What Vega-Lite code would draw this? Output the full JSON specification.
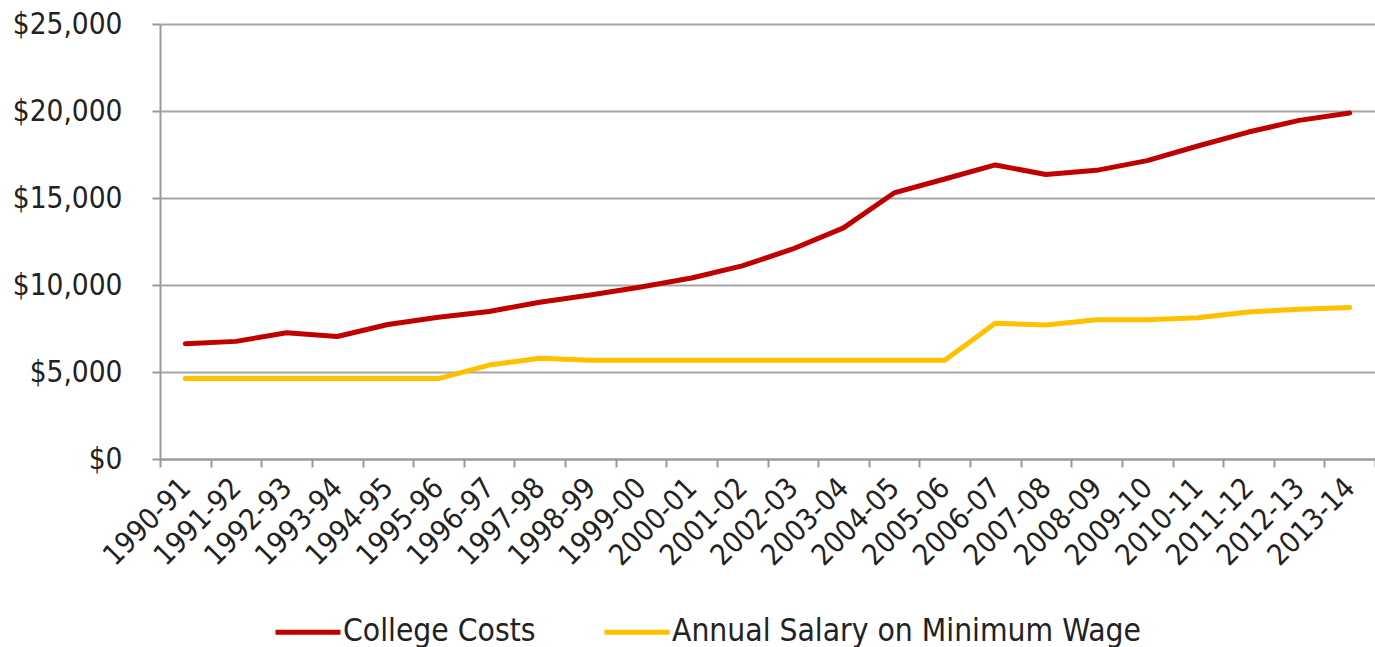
{
  "$schema": "https://vega.github.io/schema/vega-lite/v6.json",
  "width": 1215,
  "height": 435,
  "autosize": {"type": "none"},
  "padding": {"left": 160, "top": 24, "right": 0, "bottom": 188},
  "background": "white",
  "config": {
    "view": {"stroke": null},
    "font": "DejaVu Sans Condensed, Liberation Sans",
    "axis": {"labelFont": "DejaVu Sans Condensed, Liberation Sans", "labelColor": "#222222"},
    "legend": {"labelFont": "DejaVu Sans Condensed, Liberation Sans"}
  },
  "data": {
    "values": [
      {"year": "1990-91", "series": "College Costs", "value": 6630},
      {"year": "1991-92", "series": "College Costs", "value": 6760},
      {"year": "1992-93", "series": "College Costs", "value": 7260},
      {"year": "1993-94", "series": "College Costs", "value": 7040},
      {"year": "1994-95", "series": "College Costs", "value": 7730},
      {"year": "1995-96", "series": "College Costs", "value": 8150},
      {"year": "1996-97", "series": "College Costs", "value": 8480},
      {"year": "1997-98", "series": "College Costs", "value": 9010},
      {"year": "1998-99", "series": "College Costs", "value": 9430},
      {"year": "1999-00", "series": "College Costs", "value": 9890},
      {"year": "2000-01", "series": "College Costs", "value": 10400},
      {"year": "2001-02", "series": "College Costs", "value": 11100},
      {"year": "2002-03", "series": "College Costs", "value": 12070},
      {"year": "2003-04", "series": "College Costs", "value": 13280},
      {"year": "2004-05", "series": "College Costs", "value": 15290},
      {"year": "2005-06", "series": "College Costs", "value": 16090},
      {"year": "2006-07", "series": "College Costs", "value": 16900},
      {"year": "2007-08", "series": "College Costs", "value": 16350},
      {"year": "2008-09", "series": "College Costs", "value": 16590},
      {"year": "2009-10", "series": "College Costs", "value": 17150},
      {"year": "2010-11", "series": "College Costs", "value": 17990},
      {"year": "2011-12", "series": "College Costs", "value": 18790},
      {"year": "2012-13", "series": "College Costs", "value": 19460},
      {"year": "2013-14", "series": "College Costs", "value": 19880},
      {"year": "1990-91", "series": "Annual Salary on Minimum Wage", "value": 4620},
      {"year": "1991-92", "series": "Annual Salary on Minimum Wage", "value": 4620},
      {"year": "1992-93", "series": "Annual Salary on Minimum Wage", "value": 4620},
      {"year": "1993-94", "series": "Annual Salary on Minimum Wage", "value": 4620},
      {"year": "1994-95", "series": "Annual Salary on Minimum Wage", "value": 4620},
      {"year": "1995-96", "series": "Annual Salary on Minimum Wage", "value": 4620},
      {"year": "1996-97", "series": "Annual Salary on Minimum Wage", "value": 5400},
      {"year": "1997-98", "series": "Annual Salary on Minimum Wage", "value": 5790},
      {"year": "1998-99", "series": "Annual Salary on Minimum Wage", "value": 5670},
      {"year": "1999-00", "series": "Annual Salary on Minimum Wage", "value": 5670},
      {"year": "2000-01", "series": "Annual Salary on Minimum Wage", "value": 5670},
      {"year": "2001-02", "series": "Annual Salary on Minimum Wage", "value": 5670},
      {"year": "2002-03", "series": "Annual Salary on Minimum Wage", "value": 5670},
      {"year": "2003-04", "series": "Annual Salary on Minimum Wage", "value": 5670},
      {"year": "2004-05", "series": "Annual Salary on Minimum Wage", "value": 5670},
      {"year": "2005-06", "series": "Annual Salary on Minimum Wage", "value": 5670},
      {"year": "2006-07", "series": "Annual Salary on Minimum Wage", "value": 7800},
      {"year": "2007-08", "series": "Annual Salary on Minimum Wage", "value": 7700},
      {"year": "2008-09", "series": "Annual Salary on Minimum Wage", "value": 8000},
      {"year": "2009-10", "series": "Annual Salary on Minimum Wage", "value": 8000},
      {"year": "2010-11", "series": "Annual Salary on Minimum Wage", "value": 8120},
      {"year": "2011-12", "series": "Annual Salary on Minimum Wage", "value": 8450},
      {"year": "2012-13", "series": "Annual Salary on Minimum Wage", "value": 8600},
      {"year": "2013-14", "series": "Annual Salary on Minimum Wage", "value": 8700}
    ]
  },
  "mark": {"type": "line", "strokeWidth": 5, "strokeJoin": "round", "strokeCap": "round"},
  "encoding": {
    "x": {
      "field": "year",
      "type": "ordinal",
      "bandPosition": 0.5,
      "scale": {"type": "band", "paddingInner": 0, "paddingOuter": 0},
      "axis": {
        "title": null,
        "tickBand": "extent",
        "labelAngle": -45,
        "labelFontSize": 29,
        "labelAlign": "right",
        "labelBaseline": "middle",
        "labelPadding": 16,
        "tickSize": 8,
        "tickColor": "#999999",
        "tickWidth": 2,
        "domainColor": "#999999",
        "domainWidth": 2,
        "grid": false
      }
    },
    "y": {
      "field": "value",
      "type": "quantitative",
      "scale": {"domain": [0, 25000], "nice": false},
      "axis": {
        "title": null,
        "values": [0, 5000, 10000, 15000, 20000, 25000],
        "format": "$,.0f",
        "labelFontSize": 29.5,
        "labelPadding": 30,
        "tickSize": 8,
        "tickColor": "#999999",
        "tickWidth": 2,
        "domainColor": "#999999",
        "domainWidth": 2,
        "grid": true,
        "gridColor": "#a6a6a6",
        "gridWidth": 2
      }
    },
    "color": {
      "field": "series",
      "type": "nominal",
      "scale": {
        "domain": ["College Costs", "Annual Salary on Minimum Wage"],
        "range": ["#c00000", "#ffc000"]
      },
      "legend": {
        "title": null,
        "orient": "none",
        "legendX": 113,
        "legendY": 573,
        "direction": "horizontal",
        "symbolType": "stroke",
        "symbolSize": 4225,
        "symbolStrokeWidth": 5,
        "labelFontSize": 31.5,
        "labelLimit": 600,
        "labelColor": "#222222",
        "labelOffset": 0,
        "columnPadding": 58
      }
    }
  }
}
